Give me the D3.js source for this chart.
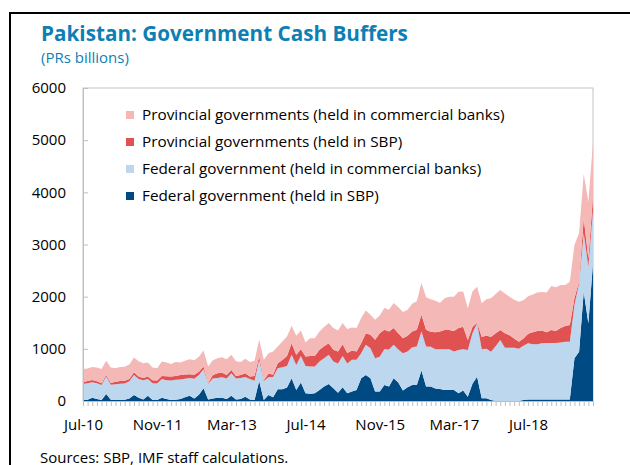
<!DOCTYPE html>
<html>
<head>
<meta charset="utf-8">
<script src="https://cdn.jsdelivr.net/npm/d3@7"></script>
<style>
  html, body { margin: 0; padding: 0; background: #fff; }
  svg { display: block; font-family: "Open Sans", "Noto Sans", sans-serif; }
</style>
</head>
<body>
<svg id="chart" width="630" height="465"></svg>
<script>
// ---- Data (PRs billions), monthly Jul-2010 .. Sep-2019 ----
const startMonth = new Date(2010, 6, 1);
const endMonth = new Date(2019, 8, 1);
const months = d3.timeMonth.range(startMonth, d3.timeMonth.offset(endMonth, 1)).map(d3.timeFormat("%b-%y"));

const tickLabels = ["Jul-10", "Nov-11", "Mar-13", "Jul-14", "Nov-15", "Mar-17", "Jul-18"];
const yTicks = [0, 1000, 2000, 3000, 4000, 5000, 6000];

const federalSBP = [20,25,64,40,20,135,25,20,20,25,50,115,60,30,100,20,20,64,40,20,25,40,70,100,50,120,244,30,50,64,
  64,40,100,30,40,83,30,20,385,20,115,70,224,224,260,436,211,353,147,140,147,211,280,327,244,160,263,150,180,211,
  436,500,436,180,180,308,280,436,353,199,263,308,308,583,276,276,240,230,210,210,210,150,200,83,330,466,51,51,20,0,
  0,0,0,0,0,20,30,30,30,30,30,30,30,30,30,30,818,946,2096,1489,2639];
const federalCB = [307,315,296,300,288,333,285,300,310,310,330,385,360,370,320,320,315,356,360,375,380,370,355,340,375,380,365,300,380,376,
  391,390,430,400,400,377,390,370,403,365,340,390,404,423,413,449,481,512,526,520,513,545,540,558,512,560,602,570,610,579,
  481,577,577,640,670,686,705,641,632,718,687,724,737,750,769,765,750,760,780,780,740,830,790,895,970,1023,939,949,926,1050,
  1169,1020,1020,1020,1000,1040,1075,1060,1060,1075,1080,1080,1080,1090,1107,1107,1022,1310,1118,1086,1022];
const provincialSBP = [32,45,44,40,32,32,35,50,55,55,40,51,50,40,48,60,60,60,75,75,75,90,85,73,80,60,51,15,70,92,
  85,70,66,50,60,70,50,90,65,19,65,50,96,141,192,224,193,129,180,205,205,225,230,224,225,230,225,200,180,160,
  192,224,257,353,451,371,345,320,316,288,300,301,320,321,320,288,330,340,371,371,390,420,435,191,120,11,243,250,287,250,
  192,280,240,180,137,140,185,230,250,245,210,250,230,280,303,320,128,40,288,160,256];
const provincialCB = [256,240,246,260,275,270,295,260,265,265,280,282,290,285,269,240,235,276,265,240,270,240,260,287,275,290,308,315,280,288,
  300,300,289,280,250,280,280,290,320,386,397,440,321,353,372,333,365,358,269,340,340,352,370,385,416,402,404,460,440,447,
  481,436,384,385,339,417,420,481,499,500,500,532,545,609,625,620,600,555,609,639,660,696,675,607,680,692,639,700,735,750,
  767,760,740,740,767,730,720,720,740,740,760,844,840,824,784,831,1022,926,850,1086,1033];

const seriesNames = [
  "Federal government (held in SBP)",
  "Federal government (held in commercial banks)",
  "Provincial governments (held in SBP)",
  "Provincial governments (held in commercial banks)"
];
const seriesColors = ["#004a84", "#bdd7ee", "#e05252", "#f4b8b6"];

// ---- Build table ----
const table = months.map((m, i) => ({
  month: m,
  s0: federalSBP[i], s1: federalCB[i], s2: provincialSBP[i], s3: provincialCB[i]
}));
const keys = ["s0", "s1", "s2", "s3"];

const svg = d3.select("#chart");
const W = 630, H = 465;
const plot = { left: 83, right: 593, top: 88, bottom: 401 };

svg.append("rect").attr("width", W).attr("height", H).attr("fill", "#fff");

// page frame
svg.append("line").attr("x1", 10).attr("x2", 10).attr("y1", 12).attr("y2", H).attr("stroke", "#000").attr("stroke-width", 2);
svg.append("line").attr("x1", 9).attr("x2", W).attr("y1", 13).attr("y2", 13).attr("stroke", "#000").attr("stroke-width", 2);

// title
const titleColor = "#0d7fb3";
svg.append("text").attr("x", 41).attr("y", 41)
  .attr("font-size", 20.7).attr("font-weight", "bold").attr("fill", titleColor)
  .text("Pakistan: Government Cash Buffers");
svg.append("text").attr("x", 41).attr("y", 63)
  .attr("font-size", 15).attr("fill", titleColor)
  .text("(PRs billions)");

// scales
const x = d3.scalePoint().domain(months).range([plot.left, plot.right]);
const y = d3.scaleLinear().domain([0, 6000]).range([plot.bottom, plot.top]);

// plot frame
svg.append("rect")
  .attr("x", plot.left).attr("y", plot.top)
  .attr("width", plot.right - plot.left).attr("height", plot.bottom - plot.top)
  .attr("fill", "none").attr("stroke", "#c4c4c4").attr("stroke-width", 1);

// stacked areas
const stacked = d3.stack().keys(keys)(table);
const area = d3.area()
  .x(d => x(d.data.month))
  .y0(d => y(d[0]))
  .y1(d => y(d[1]));

svg.append("g").selectAll("path")
  .data(stacked)
  .join("path")
  .attr("d", area)
  .attr("fill", (d, i) => seriesColors[i]);

// y axis
const yAxis = d3.axisLeft(y).tickValues(yTicks).tickSize(-5).tickPadding(17).tickFormat(d3.format("d"));
const gy = svg.append("g").attr("transform", `translate(${plot.left},0)`).call(yAxis);
gy.select(".domain").attr("stroke", "#bfbfbf");
gy.selectAll(".tick line").attr("stroke", "#bfbfbf");
gy.selectAll(".tick text").attr("font-size", 15).attr("fill", "#000")
  .attr("font-family", "'Open Sans', 'Noto Sans', sans-serif");

// x axis
const xAxis = d3.axisBottom(x).tickValues(months).tickSize(5).tickPadding(13)
  .tickFormat(d => tickLabels.includes(d) ? d : "");
const gx = svg.append("g").attr("transform", `translate(0,${plot.bottom})`).call(xAxis);
gx.select(".domain").attr("stroke", "#bfbfbf");
gx.selectAll(".tick line").attr("stroke", "#bfbfbf");
gx.selectAll(".tick text").attr("font-size", 15).attr("fill", "#000")
  .attr("font-family", "'Open Sans', 'Noto Sans', sans-serif");

// legend (top to bottom: reverse of stack order)
const legendOrder = [3, 2, 1, 0];
const lg = svg.append("g");
legendOrder.forEach((si, row) => {
  const cy = 115 + row * 27;
  lg.append("rect").attr("x", 126).attr("y", cy - 4).attr("width", 8).attr("height", 8)
    .attr("fill", seriesColors[si]);
  lg.append("text").attr("x", 142).attr("y", cy).attr("dy", "0.35em")
    .attr("font-size", 15.3).attr("fill", "#000").text(seriesNames[si]);
});

// source
svg.append("text").attr("x", 40).attr("y", 463)
  .attr("font-size", 15).attr("fill", "#000")
  .text("Sources: SBP, IMF staff calculations.");
</script>
</body>
</html>
